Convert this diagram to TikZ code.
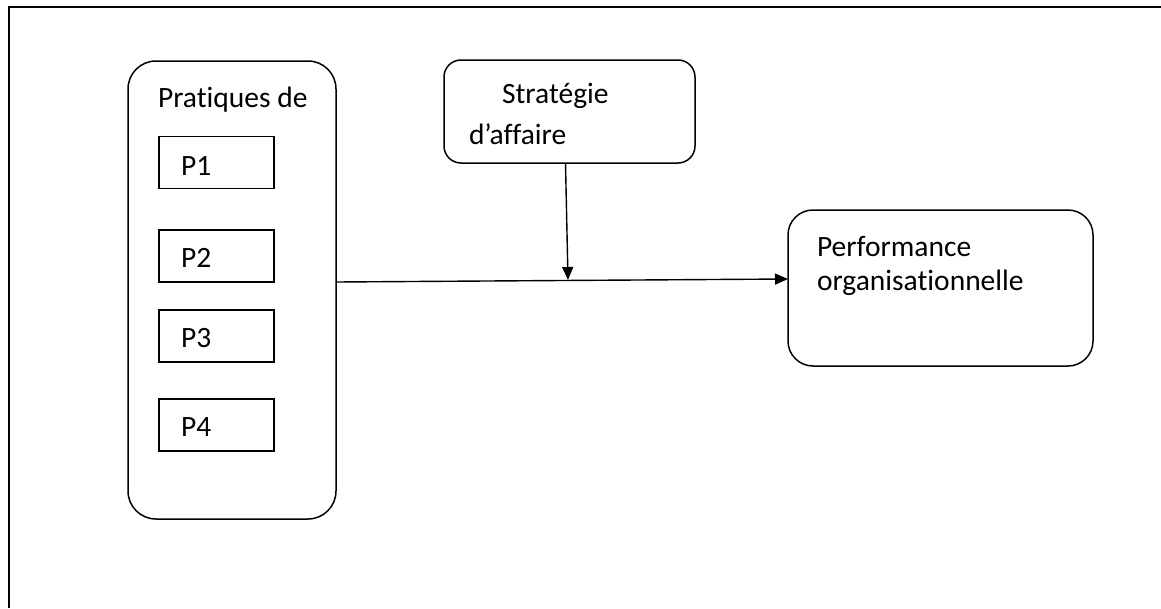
\documentclass[tikz,border=0pt]{standalone}
\usepackage{fontspec}
\setmainfont{Carlito}[RawFeature={-liga}]
\usetikzlibrary{arrows.meta}
\begin{document}
\begin{tikzpicture}[x=1pt,y=-1pt,
  box/.style={draw=black,line width=1.5pt,inner sep=0pt,outer sep=0pt},
  pbox/.style={box,line width=1.3pt,minimum width=115pt,minimum height=52pt},
  txt/.style={anchor=base west,inner sep=0pt,outer sep=0pt,font=\fontsize{29.5}{35}\selectfont},
  link/.style={draw=black,line width=1.4pt,-{Triangle[length=13pt,width=11pt]}}]
\useasboundingbox (0,0) rectangle (1161,608);
\fill[white] (0,0) rectangle (1161,608);
% outer frame (open to the right and bottom)
\draw[line width=1.7pt] (9,608) -- (9,7) -- (1161,7);

% practices group
\node[box,rounded corners=28pt,minimum width=208pt,minimum height=458pt] (prat) at (232,290) {};
\node[txt] (pratlbl) at (158,107) {Pratiques de};
\node[pbox] (p1) at (216.5,162.5) {};
\node[pbox] (p2) at (216.5,256) {};
\node[pbox] (p3) at (216.5,336) {};
\node[pbox] (p4) at (216.5,425) {};
\node[txt] (p1lbl) at (181,175) {P1};
\node[txt] (p2lbl) at (181,267) {P2};
\node[txt] (p3lbl) at (181,347) {P3};
\node[txt] (p4lbl) at (181,436) {P4};

% business strategy
\node[box,rounded corners=17pt,minimum width=251pt,minimum height=103pt] (strat) at (569.5,111.5) {};
\node[txt] (stratl1) at (502,103) {Stratégie};
\node[txt] (stratl2) at (469,144) {d’affaire};

% organisational performance
\node[box,rounded corners=25pt,minimum width=305pt,minimum height=156pt] (perf) at (940.5,288) {};
\node[txt] (perfl1) at (817,256) {Performance};
\node[txt] (perfl2) at (817,290) {organisationnelle};

% connectors
\coordinate (mid) at (568,280);
\draw[link] ([yshift=8pt]prat.east) -- ([yshift=9pt]perf.west);
\draw[link] ([xshift=-4pt]strat.south) -- (mid);
\end{tikzpicture}
\end{document}
